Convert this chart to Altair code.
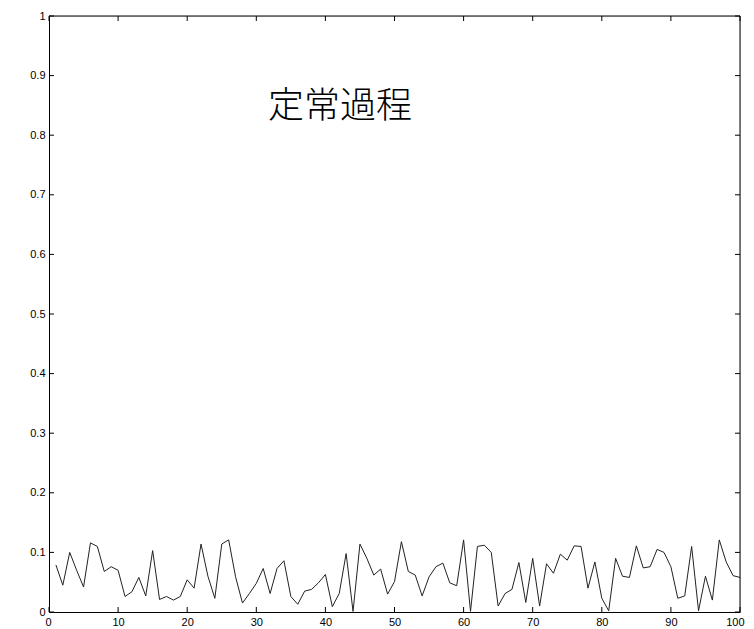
import altair as alt
import pandas as pd

x_vals = list(range(1, 101))
y_vals = [
    0.079, 0.045, 0.100, 0.070, 0.042, 0.116, 0.110, 0.068, 0.076, 0.070,
    0.026, 0.034, 0.058, 0.027, 0.103, 0.021, 0.026, 0.020, 0.026, 0.054,
    0.040, 0.114, 0.060, 0.023, 0.114, 0.121, 0.059, 0.015, 0.031, 0.048,
    0.073, 0.031, 0.073, 0.086, 0.026, 0.013, 0.035, 0.038, 0.049, 0.063,
    0.009, 0.031, 0.098, 0.001, 0.114, 0.090, 0.062, 0.072, 0.030, 0.051,
    0.118, 0.068, 0.062, 0.027, 0.059, 0.076, 0.082, 0.049, 0.044, 0.121,
    0.001, 0.110, 0.112, 0.100, 0.010, 0.031, 0.038, 0.083, 0.016, 0.090,
    0.010, 0.081, 0.065, 0.097, 0.087, 0.111, 0.110, 0.040, 0.084, 0.023,
    0.002, 0.090, 0.060, 0.058, 0.111, 0.074, 0.076, 0.105, 0.100, 0.076,
    0.023, 0.027, 0.110, 0.002, 0.060, 0.020, 0.121, 0.084, 0.061, 0.058,
]
x_ticks = [0, 10, 20, 30, 40, 50, 60, 70, 80, 90, 100]
y_ticks = [0, 0.1, 0.2, 0.3, 0.4, 0.5, 0.6, 0.7, 0.8, 0.9, 1]
title_text = ["定常過程"]

df = pd.DataFrame({"x": x_vals, "y": y_vals})

xs = alt.Scale(domain=[0, 100], nice=False, zero=False)
ys = alt.Scale(domain=[0, 1], nice=False, zero=False)

axis_common = dict(
    grid=False, domain=True, domainColor="#000", domainWidth=1, ticks=False,
    labelFont="Liberation Sans", labelFontSize=11, labelColor="#000",
    labelPadding=4, labelOverlap=False,
)

line = alt.Chart(df).mark_line(color="#222", strokeWidth=1).encode(
    x=alt.X("x:Q", scale=xs, title=None,
            axis=alt.Axis(values=x_ticks, labelFlush=True, labelFlushOffset=4,
                          **axis_common)),
    y=alt.Y("y:Q", scale=ys, title=None,
            axis=alt.Axis(values=y_ticks, format="~g", labelFlush=False, **axis_common)),
)

# inward ticks (MATLAB style) on all four sides
tx = pd.DataFrame({"x": x_ticks})
ty = pd.DataFrame({"y": y_ticks})
tick_len_y = 5 / 596.0
tick_len_x = 5 / 6.91

bot = alt.Chart(tx).mark_rule(color="#000").encode(
    x="x:Q", y=alt.datum(0, scale=ys), y2=alt.datum(tick_len_y))
top = alt.Chart(tx).mark_rule(color="#000").encode(
    x="x:Q", y=alt.datum(1, scale=ys), y2=alt.datum(1 - tick_len_y))
left = alt.Chart(ty).mark_rule(color="#000").encode(
    y="y:Q", x=alt.datum(0, scale=xs), x2=alt.datum(tick_len_x))
right = alt.Chart(ty).mark_rule(color="#000").encode(
    y="y:Q", x=alt.datum(100, scale=xs), x2=alt.datum(100 - tick_len_x))

# top and right frame edges
top_edge = alt.Chart(pd.DataFrame({"a": [0]})).mark_rule(color="#000").encode(
    x=alt.datum(0, scale=xs), x2=alt.datum(100), y=alt.datum(1, scale=ys))
right_edge = alt.Chart(pd.DataFrame({"a": [0]})).mark_rule(color="#000").encode(
    y=alt.datum(0, scale=ys), y2=alt.datum(1), x=alt.datum(100, scale=xs))

title = alt.Chart(pd.DataFrame({"t": title_text, "x": [31.7], "y": [0.848]})).mark_text(
    align="left", baseline="middle", font="Noto Sans CJK JP", fontSize=36,
    fontWeight=300, color="#000"
).encode(x=alt.X("x:Q", scale=xs), y=alt.Y("y:Q", scale=ys), text="t:N")

chart = alt.layer(line, bot, top, left, right, top_edge, right_edge, title).properties(
    width=691, height=596,
    autosize=alt.AutoSizeParams(type="none"),
    padding={"left": 41, "top": 8, "right": 6, "bottom": 17},
).configure_view(stroke=None).configure(background="white")

chart.save("out.html", embed_options={"renderer": "svg", "actions": False})
